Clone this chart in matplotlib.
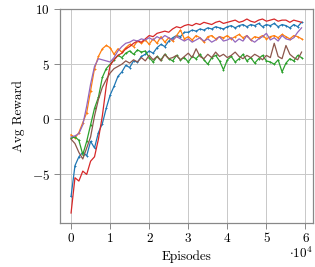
import matplotlib
matplotlib.use("Agg")
import matplotlib.pyplot as plt
from matplotlib.ticker import FuncFormatter

plt.rcParams['font.family'] = ['cmr10', 'DejaVu Serif']
plt.rcParams['mathtext.fontset'] = 'cm'
plt.rcParams['axes.formatter.use_mathtext'] = True

episodes = list(range(0, 60000, 1000))

blue = [-7.0, -4.2, -3.4, -3.0, -3.3, -2.0, -2.6, -1.2, -0.4, 1.0,
        2.2, 3.0, 3.9, 4.3, 4.9, 4.7, 5.3, 5.2, 5.7, 5.9,
        6.2, 6.0, 6.5, 6.8, 6.6, 7.1, 7.4, 7.6, 7.5, 7.9,
        7.9, 8.1, 8.0, 8.2, 8.1, 8.3, 8.2, 8.4, 8.3, 8.2,
        8.4, 8.5, 8.3, 8.5, 8.6, 8.4, 8.6, 8.5, 8.7, 8.4,
        8.6, 8.5, 8.7, 8.4, 8.6, 8.5, 8.3, 8.6, 8.4, 8.8]
orange = [-1.4, -1.7, -1.2, -0.3, 0.6, 2.6, 4.6, 5.7, 6.4, 6.7,
          6.5, 5.9, 6.4, 6.1, 6.5, 6.8, 6.6, 7.1, 6.9, 7.2,
          6.8, 7.3, 6.9, 7.5, 7.0, 7.4, 7.1, 7.6, 8.1, 7.3,
          7.5, 7.2, 7.6, 7.4, 7.0, 7.5, 7.6, 7.3, 7.5, 7.4,
          7.6, 7.3, 7.5, 7.7, 7.4, 7.6, 7.2, 7.5, 7.4, 7.6,
          7.3, 7.5, 7.6, 7.4, 7.7, 7.5, 7.3, 7.6, 7.5, 7.3]
green = [-1.7, -1.6, -1.9, -3.2, -2.0, -0.5, 1.0, 2.0, 3.8, 4.6,
         5.0, 5.4, 5.8, 5.6, 6.0, 6.2, 5.9, 6.3, 6.1, 6.2,
         5.6, 5.2, 5.7, 5.4, 5.9, 5.5, 5.3, 5.8, 5.4, 5.6,
         5.2, 5.7, 5.5, 5.9, 5.4, 5.0, 5.6, 5.8, 5.3, 4.5,
         5.4, 5.7, 5.2, 5.5, 5.9, 5.3, 5.6, 5.1, 5.5, 5.8,
         5.3, 5.2, 5.0, 5.4, 4.3, 5.1, 5.5, 5.3, 5.8, 5.6]
red = [-8.5, -5.3, -5.6, -4.7, -5.0, -3.8, -3.4, -1.8, 0.3, 3.0,
       4.9, 5.4, 5.8, 6.0, 6.4, 6.6, 6.9, 7.1, 7.0, 7.3,
       7.6, 7.5, 7.8, 7.9, 8.0, 7.9, 8.2, 8.4, 8.3, 8.5,
       8.6, 8.5, 8.7, 8.6, 8.8, 8.7, 8.6, 8.8, 8.9, 8.7,
       8.8, 8.9, 9.0, 8.8, 8.9, 9.1, 8.9, 8.8, 9.0, 9.1,
       8.9, 9.0, 9.1, 8.9, 9.0, 9.0, 8.8, 9.0, 8.9, 8.8]
purple = [-1.6, -1.5, -1.3, -0.5, 1.2, 3.2, 4.8, 5.5, 5.4, 5.3,
          5.2, 5.6, 6.2, 6.6, 6.9, 7.0, 7.2, 7.1, 7.3, 7.2,
          7.4, 7.2, 7.5, 7.3, 7.6, 7.4, 7.2, 7.5, 7.3, 7.1,
          7.3, 7.0, 7.2, 7.4, 7.1, 7.3, 7.0, 7.2, 7.5, 7.1,
          7.2, 7.4, 7.0, 7.3, 7.1, 7.6, 7.2, 7.0, 7.3, 7.5,
          7.8, 7.2, 7.4, 7.1, 7.6, 7.3, 7.2, 7.4, 7.9, 8.3]
brown = [-1.8, -2.2, -3.0, -3.6, -2.6, -1.6, 0.3, 1.8, 2.9, 3.6,
         4.2, 4.6, 4.8, 5.0, 5.3, 5.1, 5.4, 5.2, 5.6, 5.3,
         5.8, 5.4, 5.7, 5.3, 5.9, 5.5, 5.6, 5.8, 5.4, 5.7,
         6.0, 5.6, 6.4, 5.7, 5.5, 5.9, 5.6, 6.1, 5.7, 5.9,
         5.6, 5.8, 6.1, 5.7, 5.5, 5.8, 5.6, 5.9, 5.7, 5.4,
         5.8, 5.6, 6.9, 5.7, 5.5, 6.7, 5.9, 5.6, 5.4, 6.1]

xticks = [0, 10000, 20000, 30000, 40000, 50000, 60000]
yticks = [-5, 0, 5, 10]

fig = plt.figure(figsize=(3.15, 2.67), dpi=100)
ax = fig.add_axes([0.189, 0.163, 0.805, 0.805])

lw = 0.9
ax.plot(episodes, blue, color='#1f77b4', lw=lw, marker='+', ms=2.0, mew=0.7)
ax.plot(episodes, orange, color='#ff7f0e', lw=lw, marker='+', ms=2.0, mew=0.7)
ax.plot(episodes, green, color='#2ca02c', lw=lw, marker='+', ms=2.0, mew=0.7)
ax.plot(episodes, red, color='#d62728', lw=lw)
ax.plot(episodes, purple, color='#9467bd', lw=lw)
ax.plot(episodes, brown, color='#8c564b', lw=lw)

ax.set_xlim(-2950, 61950)
ax.set_ylim(-9.45, 10.05)
ax.set_xticks(xticks)
ax.set_yticks(yticks)
ax.xaxis.set_major_formatter(FuncFormatter(lambda v, p: f"{v/10000:g}"))
ax.yaxis.set_major_formatter(FuncFormatter(lambda v, p: f"${v:g}$"))
ax.grid(True, color='#c8c8c8', lw=0.7)
ax.set_axisbelow(True)
for s in ax.spines.values():
    s.set_color('#888888')
    s.set_linewidth(0.9)
ax.tick_params(direction='out', length=4, width=0.7, color='#888888',
               labelsize=9.5, pad=3)
ax.set_xlabel('Episodes', fontsize=9.5, labelpad=4)
ax.set_ylabel('Avg Reward', fontsize=9.5, labelpad=5)
ax.text(1.0, -0.14, r'$\cdot 10^4$', transform=ax.transAxes, ha='right',
        va='center', fontsize=9.5)

fig.savefig('out.png', dpi=100)
